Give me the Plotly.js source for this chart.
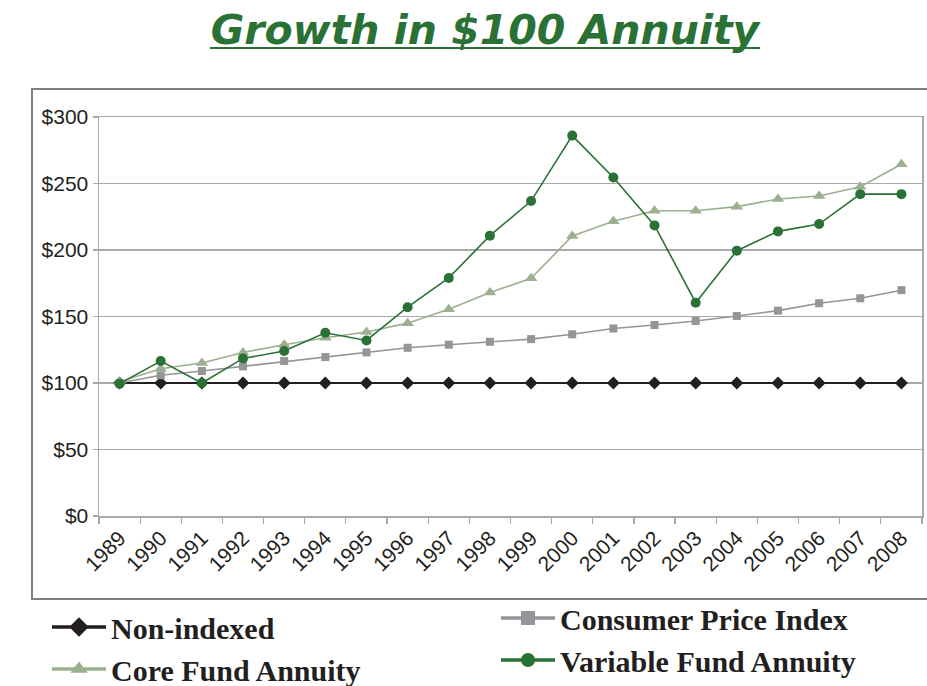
<!DOCTYPE html>
<html>
<head>
<meta charset="utf-8">
<script src="https://cdn.plot.ly/plotly-3.0.1.min.js"></script>
<style>html,body{margin:0;padding:0;background:#fff;}#chart{width:927px;height:686px;}</style>
</head>
<body>
<div id="chart"></div>
<script>
const years = ['1989','1990','1991','1992','1993','1994','1995','1996','1997','1998','1999','2000','2001','2002','2003','2004','2005','2006','2007','2008'];
const nonIndexed = [100,100,100,100,100,100,100,100,100,100,100,100,100,100,100,100,100,100,100,100];
const cpi = [100,105.8,109,112.5,116.5,119.5,123,126.5,128.8,131,133,136.6,141,143.6,146.6,150.4,154.4,160,163.7,169.8];
const coreFund = [101,110.7,115,123,128.8,134,138.3,145,155.4,168,178.7,210.5,221.6,229.5,229.5,232.6,238.3,240.6,247.6,264.5];
const variableFund = [99.5,116.5,100,118.5,124,137.8,132,157,179,210.8,236.8,286,254.5,218.5,160.4,199.5,214,219.5,242,242];
const seriesNames = ['Non-indexed','Consumer Price Index','Core Fund Annuity','Variable Fund Annuity'];
const yTicks = [0,50,100,150,200,250,300];
const yTickText = ['$0','$50','$100','$150','$200','$250','$300'];

const cBlack = '#231F20', cGray = '#939598', cLight = '#9BB08F', cDark = '#2A7135';

const traces = [
  {x: years, y: nonIndexed, name: seriesNames[0], mode: 'lines+markers', showlegend: false,
   line: {color: cBlack, width: 2.2}, marker: {symbol: 'diamond', size: 10, color: cBlack}},
  {x: years, y: cpi, name: seriesNames[1], mode: 'lines+markers', showlegend: false,
   line: {color: cGray, width: 1.6}, marker: {symbol: 'square', size: 8, color: cGray}},
  {x: years, y: coreFund, name: seriesNames[2], mode: 'lines+markers', showlegend: false,
   line: {color: cLight, width: 1.6}, marker: {symbol: 'triangle-up', size: 11, color: cLight}},
  {x: years, y: variableFund, name: seriesNames[3], mode: 'lines+markers', showlegend: false,
   line: {color: cDark, width: 1.6}, marker: {symbol: 'circle', size: 10, color: cDark}},
  // legend entries
  {x: [null], y: [null], name: seriesNames[0], mode: 'lines+markers', legend: 'legend',
   line: {color: cBlack, width: 3.5}, marker: {symbol: 'diamond', size: 15, color: cBlack}},
  {x: [null], y: [null], name: seriesNames[2], mode: 'lines+markers', legend: 'legend',
   line: {color: cLight, width: 3.5}, marker: {symbol: 'triangle-up', size: 15, color: cLight}},
  {x: [null], y: [null], name: seriesNames[1], mode: 'lines+markers', legend: 'legend2',
   line: {color: cGray, width: 3.5}, marker: {symbol: 'square', size: 14, color: cGray}},
  {x: [null], y: [null], name: seriesNames[3], mode: 'lines+markers', legend: 'legend2',
   line: {color: cDark, width: 3.5}, marker: {symbol: 'circle', size: 14, color: cDark}}
];

const legendFont = {family: 'Liberation Serif, Times New Roman, serif', size: 30, color: cBlack, weight: 'bold'};

const layout = {
  width: 927, height: 686,
  margin: {l: 99, r: 5, t: 117, b: 170, autoexpand: false},
  paper_bgcolor: '#fff', plot_bgcolor: '#fff',
  title: {
    text: 'Growth in $100 Annuity',
    font: {family: 'DejaVu Sans, Verdana, sans-serif', size: 41, color: cDark, weight: 'bold', style: 'italic'},
    xref: 'container', x: 485/927, xanchor: 'center',
    yref: 'container', y: 1 - 30/686, yanchor: 'middle'
  },
  xaxis: {
    type: 'category', range: [-0.5, 19.5], autorange: false, tickson: 'boundaries', ticks: 'outside', ticklen: 6, tickcolor: '#A7A9AC', tickwidth: 1.2,
    tickangle: -45, showgrid: false, showline: true, mirror: true, linecolor: '#A7A9AC', linewidth: 1.5,
    tickfont: {family: 'Liberation Sans, Arial, sans-serif', size: 21, color: cBlack}
  },
  yaxis: {
    range: [0, 300], autorange: false, tickmode: 'array', tickvals: yTicks, ticktext: yTickText, ticks: 'outside', ticklen: 5, tickcolor: '#A7A9AC', tickwidth: 1.2,
    showgrid: true, gridcolor: '#A7A9AC', gridwidth: 1.5, zeroline: false,
    showline: true, mirror: true, linecolor: '#A7A9AC', linewidth: 1.5,
    tickfont: {family: 'Liberation Sans, Arial, sans-serif', size: 21, color: cBlack}
  },
  legend: {
    x: (47 - 99) / 823, xanchor: 'left', y: (516 - 601) / 399, yanchor: 'top',
    orientation: 'v', font: legendFont, itemwidth: 54, bgcolor: 'rgba(0,0,0,0)', tracegroupgap: 0
  },
  legend2: {
    x: (496 - 99) / 823, xanchor: 'left', y: (516 - 592) / 399, yanchor: 'top',
    orientation: 'v', font: legendFont, itemwidth: 54, bgcolor: 'rgba(0,0,0,0)', tracegroupgap: 0
  },
  shapes: [
    {type: 'rect', xref: 'paper', yref: 'paper', x0: (32 - 99) / 823, x1: 1.2, y0: (516 - 599) / 399, y1: (516 - 89) / 399,
     line: {color: '#7F7F7F', width: 2}, fillcolor: 'rgba(0,0,0,0)', layer: 'below'},
    {type: 'line', xref: 'paper', yref: 'paper', x0: (210 - 99) / 823, x1: (760 - 99) / 823, y0: (516 - 48) / 399, y1: (516 - 48) / 399,
     line: {color: cDark, width: 2}}
  ]
};

Plotly.newPlot('chart', traces, layout, {displayModeBar: false, staticPlot: true});
</script>
</body>
</html>
